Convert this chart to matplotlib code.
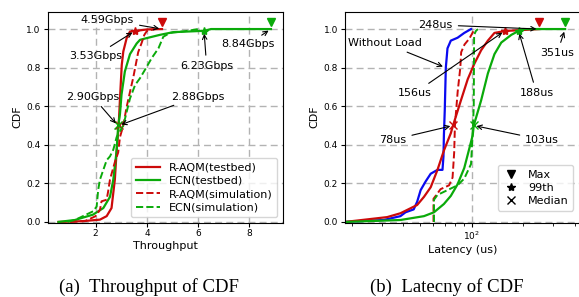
import numpy as np
import matplotlib
matplotlib.use("Agg")
import matplotlib.pyplot as plt
from matplotlib.ticker import NullFormatter

# ---- (a) throughput CDF ----
tb_raqm_x = [0.55, 1.5, 2.17, 2.43, 2.62, 2.75, 2.82, 2.90, 2.95, 3.02, 3.08, 3.21, 3.34, 3.53, 4.0, 4.59]
tb_raqm_y = [0.0, 0.004, 0.012, 0.03, 0.072, 0.22, 0.37, 0.5, 0.64, 0.815, 0.884, 0.953, 0.987, 0.99, 0.998, 1.0]
tb_ecn_x = [0.55, 1.19, 1.9, 2.3, 2.56, 2.69, 2.82, 2.88, 2.95, 3.01, 3.14, 3.34, 3.6, 3.73, 3.99, 4.51, 5.03, 6.07, 6.23, 6.5, 8.84]
tb_ecn_y = [0.0, 0.01, 0.038, 0.072, 0.13, 0.22, 0.37, 0.5, 0.56, 0.66, 0.78, 0.87, 0.925, 0.944, 0.953, 0.97, 0.984, 0.99, 0.99, 1.0, 1.0]
sim_raqm_x = [1.0, 1.6, 2.0, 2.17, 2.23, 2.43, 2.49, 2.56, 2.75, 2.88, 2.95, 3.08, 3.2, 3.35, 3.47, 3.66, 3.8, 3.9, 4.0, 4.3]
sim_raqm_y = [0.0, 0.005, 0.03, 0.063, 0.107, 0.115, 0.16, 0.22, 0.31, 0.36, 0.44, 0.5, 0.59, 0.68, 0.75, 0.88, 0.93, 0.97, 0.99, 1.0]
sim_ecn_x = [0.9, 1.19, 1.9, 2.04, 2.1, 2.17, 2.3, 2.43, 2.56, 2.69, 2.82, 3.08, 3.21, 3.34, 3.54, 3.73, 3.93, 4.19, 4.45, 4.64, 4.9, 5.55, 6.0]
sim_ecn_y = [0.0, 0.01, 0.055, 0.08, 0.167, 0.22, 0.27, 0.32, 0.34, 0.375, 0.44, 0.5, 0.57, 0.64, 0.71, 0.745, 0.79, 0.85, 0.90, 0.96, 0.98, 0.99, 1.0]

# marked points
thr_max = {"raqm": 4.59, "ecn": 8.84}
thr_p99 = {"raqm": 3.53, "ecn": 6.23}
thr_med = {"raqm": 2.90, "ecn": 2.88}

# ---- (b) latency CDF ----
noload_x = [18.3, 30.7, 38.5, 41.2, 46, 48.2, 50.5, 54, 57.8, 63.3, 67.7, 68.6, 69, 69.8, 70.8, 72.4, 75.7, 82.9, 90.7, 99.3]
noload_y = [0.0, 0.01, 0.03, 0.05, 0.065, 0.105, 0.165, 0.21, 0.25, 0.27, 0.27, 0.34, 0.45, 0.58, 0.80, 0.90, 0.94, 0.955, 0.98, 1.0]
lat_raqm_x = [18.3, 32.2, 38.5, 48.2, 52.8, 57.8, 63.3, 69, 75.7, 78, 86.7, 95, 103.8, 113.7, 124.5, 136, 152.6, 156, 248]
lat_raqm_y = [0.0, 0.025, 0.045, 0.088, 0.13, 0.18, 0.27, 0.37, 0.46, 0.5, 0.63, 0.74, 0.82, 0.89, 0.94, 0.98, 0.988, 0.99, 1.0]
lat_ecn_x = [18.3, 38.5, 52.8, 60.4, 69, 75.7, 82.9, 90.7, 97, 101.6, 103, 113.7, 124.5, 136, 149, 170.5, 188, 200, 351]
lat_ecn_y = [0.0, 0.01, 0.03, 0.05, 0.093, 0.135, 0.195, 0.28, 0.38, 0.45, 0.5, 0.63, 0.77, 0.87, 0.93, 0.97, 0.99, 1.0, 1.0]
lat_sim_raqm_x = [60, 60, 66, 74, 77.5, 79.2, 80, 83, 86, 87, 91, 97, 102, 106]
lat_sim_raqm_y = [0.0, 0.12, 0.17, 0.19, 0.23, 0.36, 0.5, 0.675, 0.8, 0.88, 0.92, 0.95, 0.985, 1.0]
lat_sim_ecn_x = [60.4, 60.4, 63.3, 72.4, 82.9, 90.7, 99.3, 101.6, 103, 103.5, 106, 109]
lat_sim_ecn_y = [0.0, 0.115, 0.14, 0.165, 0.19, 0.225, 0.30, 0.47, 0.6, 0.97, 0.99, 1.0]

lat_max = {"raqm": 248, "ecn": 351}
lat_p99 = {"raqm": 156, "ecn": 188}
lat_med = {"raqm": 78, "ecn": 103}

RED = "#cc0a0a"
GREEN = "#0aaa0a"
BLUE = "#0a0af0"

fig = plt.figure(figsize=(5.79, 2.97), dpi=100)
ax1 = fig.add_axes([0.0824, 0.2508, 0.4059, 0.7098])
ax2 = fig.add_axes([0.5959, 0.2508, 0.4059, 0.7098])

arrow = dict(arrowstyle="->", color="black", lw=0.8)
afs = 8

# ---------- left ----------
ax1.plot(tb_raqm_x, tb_raqm_y, color=RED, lw=1.6, label="R-AQM(testbed)")
ax1.plot(tb_ecn_x, tb_ecn_y, color=GREEN, lw=1.6, label="ECN(testbed)")
ax1.plot(sim_raqm_x, sim_raqm_y, color=RED, lw=1.4, ls="--", label="R-AQM(simulation)")
ax1.plot(sim_ecn_x, sim_ecn_y, color=GREEN, lw=1.4, ls="--", label="ECN(simulation)")
for k, c in (("raqm", RED), ("ecn", GREEN)):
    ax1.plot(thr_max[k], 1.035, "v", color=c, ms=6)
    ax1.plot(thr_p99[k], 0.99, "*", color=c, ms=6)
    ax1.plot(thr_med[k], 0.5, "x", color=c, ms=6)

ax1.annotate("4.59Gbps", xy=(4.59, 1.0), xytext=(2.46, 1.048), ha="center", va="center",
             fontsize=afs, arrowprops=arrow)
ax1.annotate("3.53Gbps", xy=(3.53, 0.99), xytext=(2.0, 0.862), ha="center", va="center",
             fontsize=afs, arrowprops=arrow)
ax1.annotate("2.90Gbps", xy=(2.86, 0.5), xytext=(1.88, 0.65), ha="center", va="center",
             fontsize=afs, arrowprops=arrow)
ax1.annotate("2.88Gbps", xy=(2.9, 0.5), xytext=(5.98, 0.65), ha="center", va="center",
             fontsize=afs, arrowprops=arrow)
ax1.annotate("6.23Gbps", xy=(6.23, 0.99), xytext=(6.33, 0.81), ha="center", va="center",
             fontsize=afs, arrowprops=arrow)
ax1.annotate("8.84Gbps", xy=(8.84, 1.0), xytext=(7.93, 0.92), ha="center", va="center",
             fontsize=afs, arrowprops=arrow)

ax1.set_xlim(0.13, 9.3)
ax1.set_ylim(-0.003, 1.09)
ax1.set_xticks([2, 4, 6, 8])
ax1.set_yticks([0.0, 0.2, 0.4, 0.6, 0.8, 1.0])
ax1.grid(True, linestyle="--", color="0.7", lw=1.0, dashes=(5, 3))
ax1.set_xlabel("Throughput", fontsize=8, labelpad=2)
ax1.set_ylabel("CDF", fontsize=8, labelpad=3)
ax1.tick_params(labelsize=6.5, length=3, pad=2)
ax1.legend(loc="lower right", fontsize=8, handlelength=2.2, borderpad=0.4, labelspacing=0.3)

# ---------- right ----------
ax2.set_xscale("log")
ax2.plot(noload_x, noload_y, color=BLUE, lw=1.6)
ax2.plot(lat_raqm_x, lat_raqm_y, color=RED, lw=1.6)
ax2.plot(lat_ecn_x, lat_ecn_y, color=GREEN, lw=1.6)
ax2.plot(lat_sim_raqm_x, lat_sim_raqm_y, color=RED, lw=1.4, ls="--")
ax2.plot(lat_sim_ecn_x, lat_sim_ecn_y, color=GREEN, lw=1.4, ls="--")
for k, c in (("raqm", RED), ("ecn", GREEN)):
    ax2.plot(lat_max[k], 1.035, "v", color=c, ms=6)
    ax2.plot(lat_p99[k], 0.99, "*", color=c, ms=6)
    ax2.plot(lat_med[k], 0.5, "x", color=c, ms=6)

ax2.annotate("248us", xy=(248, 1.0), xytext=(61.8, 1.022), ha="center", va="center",
             fontsize=afs, arrowprops=arrow)
ax2.annotate("Without Load", xy=(70.5, 0.8), xytext=(31.4, 0.926), ha="center", va="center",
             fontsize=afs, arrowprops=arrow)
ax2.annotate("156us", xy=(156, 0.99), xytext=(46.9, 0.67), ha="center", va="center",
             fontsize=afs, arrowprops=arrow)
ax2.annotate("188us", xy=(188, 0.99), xytext=(239, 0.67), ha="center", va="center",
             fontsize=afs, arrowprops=arrow)
ax2.annotate("351us", xy=(351, 1.0), xytext=(316, 0.877), ha="center", va="center",
             fontsize=afs, arrowprops=arrow)
ax2.annotate("78us", xy=(78, 0.5), xytext=(34.8, 0.426), ha="center", va="center",
             fontsize=afs, arrowprops=arrow)
ax2.annotate("103us", xy=(103, 0.5), xytext=(258, 0.426), ha="center", va="center",
             fontsize=afs, arrowprops=arrow)

h_max, = ax2.plot([], [], "v", color="black", ms=6, ls="none")
h_p99, = ax2.plot([], [], "*", color="black", ms=6, ls="none")
h_med, = ax2.plot([], [], "x", color="black", ms=6, ls="none")
ax2.legend([h_max, h_p99, h_med], ["Max", "99th", "Median"], loc="lower right",
           fontsize=8, handlelength=1.5, borderpad=0.4, labelspacing=0.3,
           bbox_to_anchor=(0.995, 0.03))

ax2.set_xlim(18.3, 429)
ax2.set_ylim(-0.003, 1.09)
ax2.set_yticks([0.0, 0.2, 0.4, 0.6, 0.8, 1.0])
ax2.xaxis.set_minor_formatter(NullFormatter())
ax2.grid(True, which="major", linestyle="--", color="0.7", lw=1.0, dashes=(5, 3))
ax2.set_xlabel("Latency (us)", fontsize=8, labelpad=2)
ax2.set_ylabel("CDF", fontsize=8, labelpad=3)
ax2.tick_params(labelsize=6.5, length=3, pad=2)
ax2.tick_params(which="minor", length=1.8)

fig.text(0.257, 0.032, "(a)  Throughput of CDF", fontsize=13.5, family="Liberation Serif",
         ha="center", va="center")
fig.text(0.772, 0.032, "(b)  Latecny of CDF", fontsize=13.5, family="Liberation Serif",
         ha="center", va="center")

fig.savefig("out.png", dpi=100)
